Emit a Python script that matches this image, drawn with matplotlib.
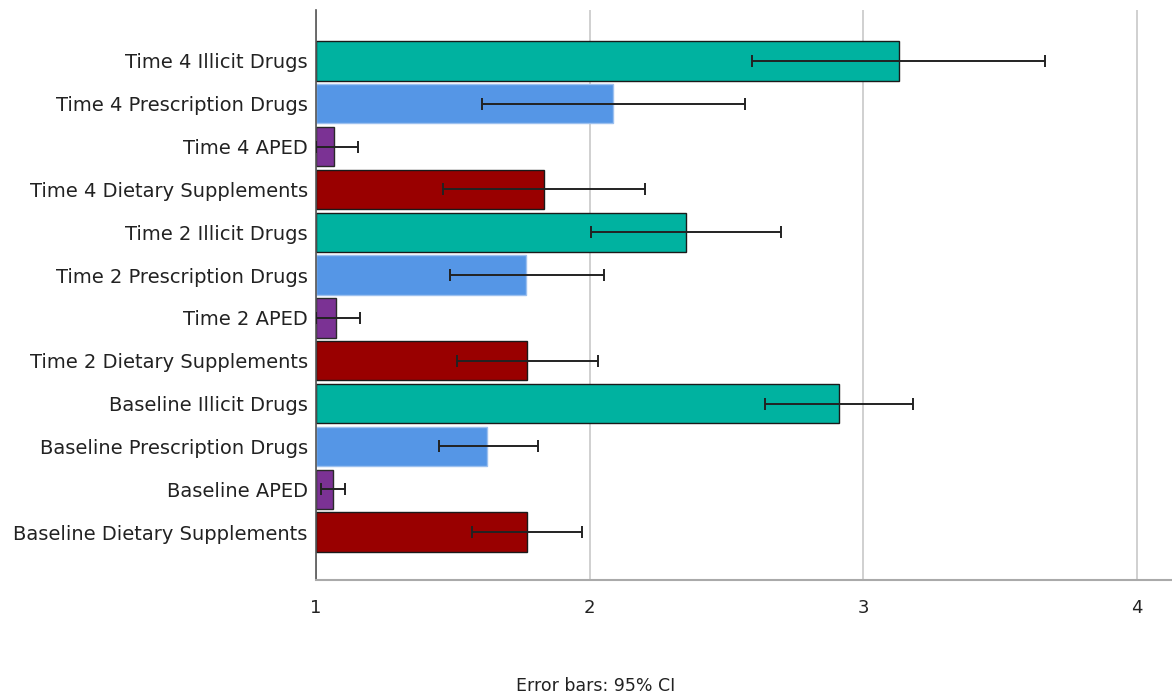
import numpy as np
import matplotlib.pyplot as plt

# rows listed bottom to top
labels = [
    'Baseline Dietary Supplements', 'Baseline APED', 'Baseline Prescription Drugs', 'Baseline Illicit Drugs',
    'Time 2 Dietary Supplements', 'Time 2 APED', 'Time 2 Prescription Drugs', 'Time 2 Illicit Drugs',
    'Time 4 Dietary Supplements', 'Time 4 APED', 'Time 4 Prescription Drugs', 'Time 4 Illicit Drugs',
]
means = [1.771, 1.062, 1.625, 2.912,
         1.771, 1.073, 1.768, 2.353,
         1.834, 1.066, 2.086, 3.130]
ci_low = [1.570, 1.018, 1.450, 2.642,
          1.516, 1.000, 1.490, 2.005,
          1.464, 1.000, 1.607, 2.594]
ci_high = [1.973, 1.106, 1.812, 3.183,
           2.031, 1.161, 2.053, 2.700,
           2.203, 1.154, 2.569, 3.666]
kinds = ['diet', 'aped', 'presc', 'illicit'] * 3

colors = {'diet': '#990000', 'aped': '#7B3294', 'presc': '#5596E6', 'illicit': '#00B2A0'}
edges = {'diet': '#1a1a1a', 'aped': '#2a2a2a', 'presc': '#9cc0ef', 'illicit': '#1a1a1a'}

plt.rcParams['font.family'] = ['DejaVu Sans']

fig = plt.figure(figsize=(11.72, 6.95), dpi=100)
ax = fig.add_axes([316 / 1172, 1 - 580 / 695, (1172 - 316) / 1172, 570 / 695])

y = np.arange(len(labels))
m = np.array(means)
lo = m - np.array(ci_low)
hi = np.array(ci_high) - m

ax.barh(y, m - 1, left=1, height=0.92,
        color=[colors[k] for k in kinds],
        edgecolor=[edges[k] for k in kinds], linewidth=1.0, zorder=2)
ax.errorbar(m, y, xerr=[lo, hi], fmt='none', ecolor='#222222',
            elinewidth=1.4, capsize=4.5, capthick=1.4, zorder=3)

ax.set_xlim(1, 1 + (1172 - 316) / 273.5)
ax.set_ylim(-1.12, 12.19)
ax.set_xticks([1, 2, 3, 4])
ax.set_xticklabels(['1', '2', '3', '4'])
ax.set_yticks(y)
ax.set_yticklabels(labels)
ax.tick_params(axis='x', length=0, labelsize=13, colors='#222222', pad=14)
ax.tick_params(axis='y', length=0, labelsize=14, colors='#222222', pad=6)

ax.grid(axis='x', color='#c8c8c8', linewidth=1.2, zorder=0)
ax.set_axisbelow(True)
for s in ['top', 'right']:
    ax.spines[s].set_visible(False)
ax.spines['left'].set_color('#555555')
ax.spines['left'].set_linewidth(1.2)
ax.spines['bottom'].set_color('#aaaaaa')
ax.spines['bottom'].set_linewidth(1.5)

fig.text(596 / 1172, 1 - 686 / 695, 'Error bars: 95% CI', ha='center', va='center',
         fontsize=12.5, color='#222222')

fig.savefig('out.png', dpi=100)
